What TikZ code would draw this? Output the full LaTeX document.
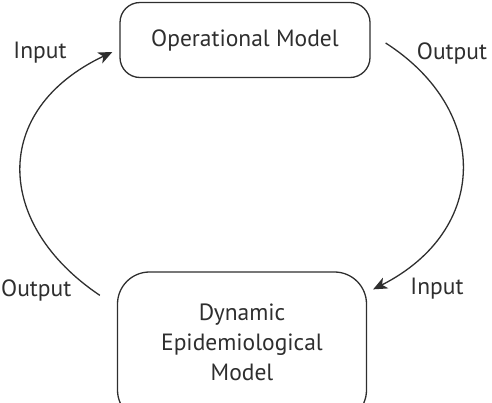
\documentclass[tikz,border=0pt]{standalone}
\usepackage{fontspec}
\setmainfont{PT Sans}
\usetikzlibrary{arrows.meta,calc}
\definecolor{ink}{HTML}{2E2E2E}
\begin{document}
\begin{tikzpicture}[x=1pt,y=-1pt,
  modelbox/.style={draw=ink,line width=1.3pt,align=center,text=ink,
    font=\fontsize{23.5}{30}\selectfont},
  lbl/.style={text=ink,font=\fontsize{23.5}{28}\selectfont,inner sep=0pt},
  flow/.style={draw=ink,line width=1.3pt,-{Stealth[length=14pt,width=12pt,inset=4pt]}}]
\useasboundingbox (0,0) rectangle (492,402);
\node[modelbox,rounded corners=20pt,minimum width=250pt,minimum height=75pt] (op) at (245,40) {Operational Model};
\node[modelbox,rounded corners=32pt,minimum width=249pt,minimum height=150pt] (epi) at (242,347) {};
\node[text=ink,font=\fontsize{23.5}{30}\selectfont,align=center] (epitext) at (242,342) {Dynamic\\Epidemiological\\Model};
\node[lbl] (inL) at (40,53) {Input};
\node[lbl] (outR) at (452,53) {Output};
\node[lbl,anchor=west] (outL) at (1,290) {Output};
\node[lbl] (inR) at (437,289) {Input};
\coordinate (s1) at ($(epi.north west)+(-17,24)$);
\coordinate (e1) at ($(op.west)+(-7,12)$);
\coordinate (s2) at ($(op.east)+(15,3)$);
\coordinate (e2) at ($(epi.north east)+(6,18)$);
\draw[flow] (s1) .. controls (-5,225) and (-10,110) .. (e1);
\draw[flow] (s2) .. controls (490,110) and (490,230) .. (e2);
\end{tikzpicture}
\end{document}
